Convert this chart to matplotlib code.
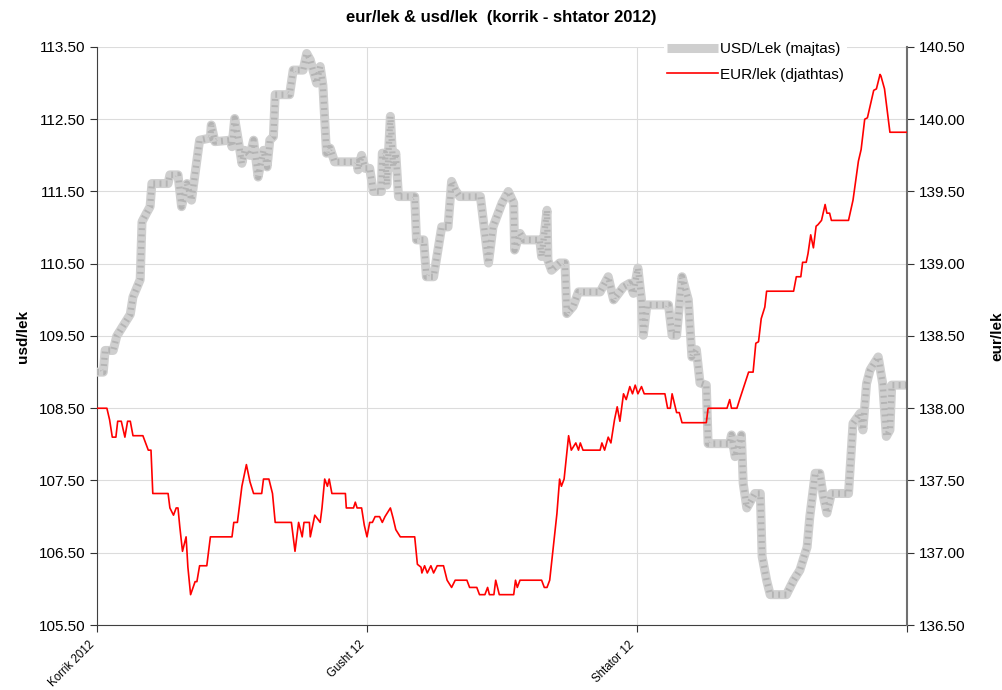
import matplotlib
matplotlib.use("Agg")
import matplotlib.pyplot as plt

plt.rcParams['font.family'] = ['Liberation Sans', 'DejaVu Sans']

# x = days from 1 July 2012 (axis spans 3 equal month blocks of 30)
usd_day = [0, 0.7, 0.9, 1.8, 2.2, 2.7, 3.7, 4.0, 4.8, 5.0, 5.5, 5.9, 6.1, 7.9, 8.1, 9.0, 9.4, 10.0, 10.5, 11.4,
           12.6, 12.7, 13.1, 14.8, 15.0, 15.3, 15.7, 16.1, 16.4, 17.0, 17.4, 17.9, 18.5, 18.9, 19.2, 19.6, 19.8, 21.4,
           21.8, 22.9, 23.3, 23.7, 24.0, 24.4, 24.8, 25.1, 25.5, 25.9, 26.4, 28.9, 29.0, 29.4, 29.8, 30.3, 30.7, 31.6,
           31.7, 32.0, 32.2, 32.6, 32.7, 32.9, 33.2, 33.5, 35.3, 35.5, 36.3, 36.6, 37.4, 38.3, 39.0, 39.4, 39.8, 40.3,
           42.6, 43.5, 44.0, 45.0, 45.7, 46.3, 46.4, 47.0, 47.4, 49.2, 49.4, 50.0, 50.1, 50.5, 51.4, 52.0, 52.2, 52.9,
           53.5, 55.9, 56.8, 57.4, 58.5, 59.2, 59.6, 60.1, 60.5, 60.7, 61.1, 63.5, 63.9, 64.4, 65.0, 65.7, 66.1, 66.6,
           67.0, 67.7, 67.9, 70.3, 70.5, 70.9, 71.6, 71.8, 72.2, 73.1, 73.7, 73.9, 74.4, 74.8, 76.6, 77.4, 78.1, 78.9,
           79.2, 79.8, 80.3, 80.7, 81.1, 81.6, 83.5, 84.0, 84.8, 85.1, 85.5, 85.9, 86.6, 86.8, 87.3, 87.7, 88.1, 88.3,
           90]
usd_val = [109.00, 109.00, 109.30, 109.30, 109.50, 109.60, 109.80, 110.04, 110.28, 111.08, 111.20, 111.29, 111.61,
           111.61, 111.73, 111.73, 111.29, 111.61, 111.38, 112.21, 112.24, 112.42, 112.19, 112.21, 112.12, 112.51,
           112.21, 111.89, 112.07, 112.00, 112.21, 111.70, 112.07, 111.84, 112.21, 112.26, 112.84, 112.84, 113.18,
           113.18, 113.41, 113.32, 113.18, 113.00, 113.23, 112.97, 112.03, 112.10, 111.91, 111.91, 111.80, 112.00,
           111.82, 111.82, 111.50, 111.50, 112.03, 112.03, 111.59, 112.54, 112.31, 111.84, 112.03, 111.43, 111.43,
           110.83, 110.83, 110.32, 110.32, 111.01, 111.01, 111.64, 111.52, 111.43, 111.43, 110.51, 111.01, 111.34,
           111.50, 111.34, 110.69, 110.92, 110.83, 110.83, 110.60, 111.24, 110.55, 110.41, 110.51, 110.51, 109.81,
           109.91, 110.11, 110.11, 110.32, 110.00, 110.18, 110.23, 110.09, 110.44, 110.00, 109.51, 109.93, 109.93,
           109.51, 109.51, 110.32, 110.00, 109.21, 109.31, 108.85, 108.82, 108.01, 108.01, 108.13, 107.83, 108.13,
           107.46, 107.12, 107.32, 107.32, 106.45, 106.12, 105.92, 105.92, 106.12, 106.26, 106.58, 107.00, 107.60,
           107.60, 107.28, 107.05, 107.32, 107.32, 108.29, 108.43, 108.20, 108.84, 109.03, 109.17, 109.21, 108.84,
           108.11, 108.20, 108.82, 108.82]

eur_day = [0, 1.1, 1.4, 1.7, 2.1, 2.3, 2.7, 3.1, 3.4, 3.7, 4.0, 5.1, 5.4, 5.7, 6.0, 6.2, 7.9, 8.1, 8.5, 8.8, 9.0,
           9.2, 9.5, 9.9, 10.1, 10.4, 10.9, 11.1, 11.4, 12.2, 12.6, 15.0, 15.2, 15.6, 16.1, 16.6, 17.0, 17.4, 18.3,
           18.5, 19.1, 19.5, 19.8, 21.6, 22.0, 22.4, 22.8, 23.0, 23.6, 23.7, 24.2, 24.8, 25.0, 25.3, 25.6, 25.8, 26.1,
           27.6, 27.7, 28.5, 28.7, 28.9, 29.4, 29.7, 30.0, 30.3, 30.6, 30.9, 31.4, 31.7, 32.0, 32.6, 32.9, 33.2, 33.7,
           35.3, 35.6, 36.0, 36.1, 36.4, 36.7, 37.1, 37.4, 37.8, 38.5, 38.9, 39.4, 39.8, 41.1, 41.4, 42.2, 42.5, 43.1,
           43.4, 43.6, 44.1, 44.3, 44.7, 46.3, 46.5, 46.7, 47.0, 49.4, 49.7, 50.0, 50.3, 51.1, 51.4, 51.6, 51.9, 52.4,
           52.7, 53.2, 53.5, 53.7, 54.0, 55.9, 56.1, 56.4, 56.8, 57.1, 57.5, 57.8, 58.1, 58.5, 58.8, 59.2, 59.5, 59.8,
           60.1, 60.5, 60.8, 63.1, 63.4, 63.7, 63.9, 64.4, 64.7, 65.0, 67.7, 67.9, 70.0, 70.3, 70.5, 71.1, 71.4, 72.4,
           72.9, 73.2, 73.5, 73.8, 74.2, 74.4, 77.4, 77.7, 78.2, 78.4, 78.8, 79.0, 79.3, 79.6, 79.9, 80.1, 80.5, 80.9,
           81.1, 81.4, 81.6, 83.5, 84.0, 84.6, 84.9, 85.3, 85.6, 86.3, 86.6, 87.0, 87.1, 87.5, 88.1, 90]
eur_val = [138.00, 138.00, 137.92, 137.80, 137.80, 137.91, 137.91, 137.80, 137.91, 137.91, 137.81, 137.81, 137.76,
           137.71, 137.71, 137.41, 137.41, 137.31, 137.26, 137.31, 137.31, 137.18, 137.01, 137.11, 136.90, 136.71,
           136.80, 136.80, 136.91, 136.91, 137.11, 137.11, 137.21, 137.21, 137.46, 137.61, 137.49, 137.41, 137.41,
           137.51, 137.51, 137.41, 137.21, 137.21, 137.01, 137.21, 137.11, 137.21, 137.21, 137.11, 137.26, 137.21,
           137.31, 137.51, 137.46, 137.51, 137.41, 137.41, 137.31, 137.31, 137.35, 137.31, 137.31, 137.19, 137.11,
           137.21, 137.21, 137.25, 137.25, 137.21, 137.25, 137.31, 137.24, 137.16, 137.11, 137.11, 136.92, 136.90,
           136.86, 136.91, 136.86, 136.91, 136.86, 136.91, 136.91, 136.81, 136.76, 136.81, 136.81, 136.76, 136.76,
           136.71, 136.71, 136.76, 136.71, 136.71, 136.81, 136.71, 136.71, 136.81, 136.76, 136.81, 136.81, 136.76,
           136.76, 136.81, 137.27, 137.51, 137.46, 137.51, 137.81, 137.71, 137.76, 137.71, 137.76, 137.71, 137.71,
           137.76, 137.71, 137.80, 137.76, 137.92, 138.01, 137.91, 138.10, 138.06, 138.15, 138.10, 138.16, 138.10,
           138.15, 138.10, 138.10, 138.00, 138.00, 138.10, 137.97, 137.97, 137.90, 137.90, 138.00, 138.00, 138.06,
           138.00, 138.00, 138.06, 138.25, 138.25, 138.45, 138.46, 138.62, 138.70, 138.81, 138.81, 138.91, 138.91,
           139.01, 139.01, 139.07, 139.20, 139.11, 139.26, 139.27, 139.30, 139.41, 139.35, 139.35, 139.30, 139.30,
           139.44, 139.71, 139.79, 140.00, 140.01, 140.20, 140.21, 140.31, 140.30, 140.21, 139.91, 139.91]

month_ticks = [0, 30, 60, 90]
month_labels = ['Korrik 2012', 'Gusht 12', 'Shtator 12', '']

fig = plt.figure(figsize=(10.03, 6.9), dpi=100)
ax = fig.add_axes([0.0967, 0.0942, 0.8076, 0.8377])
ax2 = ax.twinx()

l1, = ax.plot(usd_day, usd_val, color='#cfcfcf', lw=6.5, solid_joinstyle='round',
              solid_capstyle='butt', zorder=3)
ax.plot(usd_day, usd_val, color='#b4b4b4', lw=4.5, ls=(0, (0.3, 0.7)), dash_joinstyle='round', zorder=3)
l2, = ax2.plot(eur_day, eur_val, color='#ff0000', lw=1.2, zorder=3)

ax.set_xlim(0, 90)
ax.set_ylim(105.5, 113.5)
ax2.set_ylim(136.5, 140.5)
ax.set_yticks([105.5 + i for i in range(9)])
ax.set_yticklabels([f'{105.5 + i:.2f}' for i in range(9)])
ax2.set_yticks([136.5 + 0.5 * i for i in range(9)])
ax2.set_yticklabels([f'{136.5 + 0.5 * i:.2f}' for i in range(9)])
ax.set_xticks(month_ticks)
ax.set_xticklabels(month_labels, rotation=45, ha='right', va='top')

ax.grid(True, color='#dcdcdc', lw=0.8)
ax.set_axisbelow(True)
for a in (ax, ax2):
    a.spines['top'].set_visible(False)
    a.tick_params(labelsize=11, length=5, direction='out', colors='#333333', labelcolor='black')
ax.tick_params(axis='x', labelsize=8.3, pad=5)
ax2.spines['left'].set_visible(False)
ax2.spines['bottom'].set_visible(False)
ax.spines['right'].set_visible(False)
ax.spines['left'].set_color('#404040')
ax.spines['bottom'].set_color('#404040')
ax2.spines['right'].set_color('#707070')
ax2.spines['right'].set_linewidth(1.5)

ax.set_ylabel('usd/lek', fontsize=11, fontweight='bold', labelpad=6)
ax2.set_ylabel('eur/lek', fontsize=11, fontweight='bold', labelpad=18)
fig.suptitle('eur/lek & usd/lek  (korrik - shtator 2012)', fontsize=12, fontweight='bold', y=0.985)

leg = ax2.legend([l1, l2], ['USD/Lek (majtas)', 'EUR/lek (djathtas)'], loc='upper right',
                 bbox_to_anchor=(0.935, 1.027), frameon=True, fontsize=11, handlelength=3.3,
                 handletextpad=0.15, borderpad=0.2, labelspacing=0.75)
leg.get_frame().set_edgecolor('none')
leg.get_frame().set_facecolor('white')
leg.get_frame().set_alpha(1)

fig.savefig('out.png', dpi=100)
